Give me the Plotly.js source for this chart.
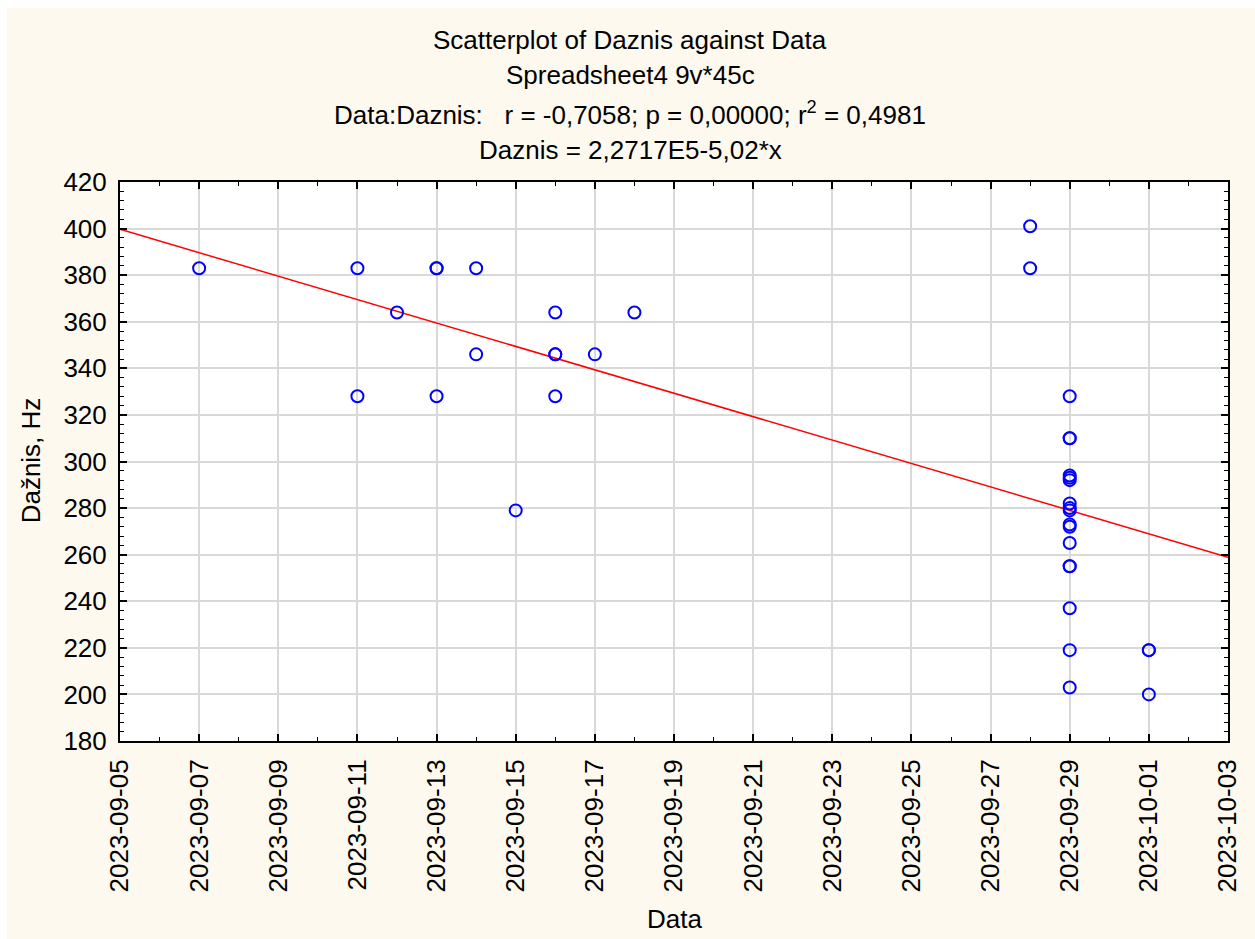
<!DOCTYPE html>
<html>
<head>
<meta charset="utf-8">
<script src="https://cdn.plot.ly/plotly-3.0.1.min.js"></script>
<style>
  html, body { margin: 0; padding: 0; background: #ffffff; }
  #chart { position: absolute; left: 7px; top: 8px; width: 1248px; height: 931px; }
</style>
</head>
<body>
<div id="chart"></div>
<script>
// Observations (date, frequency in Hz)
const dates = [
  '2023-09-07',
  '2023-09-11', '2023-09-11',
  '2023-09-12',
  '2023-09-13', '2023-09-13', '2023-09-13',
  '2023-09-14', '2023-09-14',
  '2023-09-15',
  '2023-09-16', '2023-09-16', '2023-09-16', '2023-09-16',
  '2023-09-17',
  '2023-09-18',
  '2023-09-28', '2023-09-28',
  '2023-09-29', '2023-09-29', '2023-09-29', '2023-09-29', '2023-09-29',
  '2023-09-29', '2023-09-29', '2023-09-29', '2023-09-29', '2023-09-29',
  '2023-09-29', '2023-09-29', '2023-09-29', '2023-09-29', '2023-09-29',
  '2023-09-29', '2023-09-29',
  '2023-10-01', '2023-10-01', '2023-10-01'
];
const daznis = [
  383,
  383, 328,
  364,
  383, 383, 328,
  383, 346,
  279,
  364, 346, 346, 328,
  346,
  364,
  401, 383,
  328, 310, 310, 294, 293,
  292, 282, 280, 279, 273,
  272, 265, 255, 255, 237,
  219, 203,
  219, 219, 200
];

// Fitted regression line (at the axis ends)
const fitX = ['2023-09-05', '2023-10-03'];
const fitY = [399.7, 258.9];

// Titles
const titleLines = [
  'Scatterplot of Daznis against Data',
  'Spreadsheet4 9v*45c',
  'Data:Daznis:   r = -0,7058; p = 0,00000; r<sup>2</sup> = 0,4981',
  'Daznis = 2,2717E5-5,02*x'
];
const titleY = [1.254, 1.1914, 1.1234, 1.0572];
const xTitle = 'Data';
const yTitle = 'Dažnis, Hz';

const font = 'Arial, "Liberation Sans", sans-serif';
const DAY = 86400000;

const traces = [
  {
    x: fitX, y: fitY, type: 'scatter', mode: 'lines',
    line: { color: '#ff0000', width: 1.5 },
    hoverinfo: 'skip', showlegend: false
  },
  {
    x: dates, y: daznis, type: 'scatter', mode: 'markers',
    marker: { symbol: 'circle-open', size: 12, color: '#0000ff', line: { width: 2, color: '#0000ff' } },
    showlegend: false
  }
];

const annotations = titleLines.map((t, i) => ({
  text: t, xref: 'paper', yref: 'paper', x: 0.4603, y: titleY[i],
  xanchor: 'center', yanchor: 'middle', showarrow: false,
  font: { family: font, size: 26, color: '#000000' }
}));
annotations.push({
  text: xTitle, xref: 'paper', yref: 'paper', x: 0.5, y: -0.3185,
  xanchor: 'center', yanchor: 'middle', showarrow: false,
  font: { family: font, size: 26, color: '#000000' }
});
annotations.push({
  text: yTitle, xref: 'paper', yref: 'paper', x: -0.080, y: 0.5027,
  xanchor: 'center', yanchor: 'middle', showarrow: false, textangle: -90,
  font: { family: font, size: 26, color: '#000000' }
});

const layout = {
  width: 1248, height: 931,
  paper_bgcolor: '#fdf9ee',
  plot_bgcolor: '#ffffff',
  margin: { l: 113, r: 27, t: 174, b: 198 },
  showlegend: false,
  font: { family: font, color: '#000000' },
  xaxis: {
    type: 'date',
    range: ['2023-09-05', '2023-10-03'],
    tick0: '2023-09-05', dtick: 2 * DAY,
    tickformat: '%Y-%m-%d', tickangle: -90,
    tickfont: { family: font, size: 26, color: '#000000' },
    ticks: 'inside', ticklen: 7, tickwidth: 1.5, tickcolor: '#000000',
    showgrid: true, gridcolor: '#d9d9d9', gridwidth: 1.5,
    showline: true, linecolor: '#000000', linewidth: 2, mirror: 'allticks',
    zeroline: false, ticklabelstandoff: 6,
    minor: { dtick: DAY, tick0: '2023-09-05', ticks: 'inside', ticklen: 4, tickcolor: '#000000', tickwidth: 1, showgrid: false }
  },
  yaxis: {
    range: [180, 420],
    tick0: 180, dtick: 20,
    tickfont: { family: font, size: 26, color: '#000000' },
    ticks: 'inside', ticklen: 7, tickwidth: 1.5, tickcolor: '#000000',
    showgrid: true, gridcolor: '#d9d9d9', gridwidth: 1.5,
    showline: true, linecolor: '#000000', linewidth: 2, mirror: 'allticks',
    zeroline: false, ticklabelstandoff: 6,
    minor: { dtick: 4, tick0: 180, ticks: 'inside', ticklen: 4, tickcolor: '#000000', tickwidth: 1, showgrid: false }
  },
  annotations: annotations
};

Plotly.newPlot('chart', traces, layout, { displayModeBar: false, responsive: false });
</script>
</body>
</html>
